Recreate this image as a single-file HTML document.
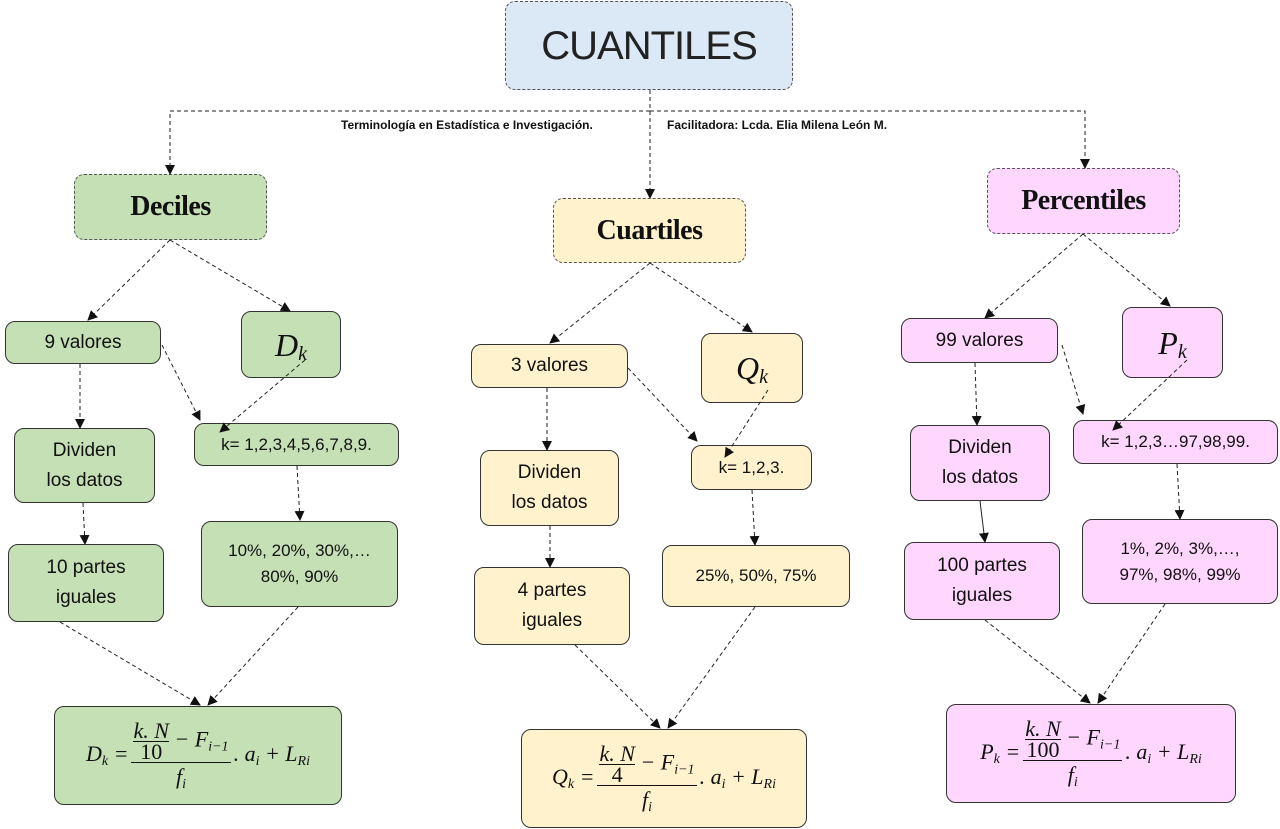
<!DOCTYPE html>
<html><head><meta charset="utf-8"><style>
body{margin:0;width:1280px;height:829px;background:#fff;position:relative;overflow:hidden;font-family:"Liberation Sans",sans-serif;}
.b{position:absolute;box-sizing:border-box;border:1px solid #333;border-radius:10px;display:flex;align-items:center;justify-content:center;text-align:center;color:#111;font-size:19px;line-height:30px;}
.d{border:1.5px dashed #555;}
.g{background:#c5e0b4}.y{background:#fff2cc}.p{background:#ffd6fd}.bl{background:#dbe8f6}
.h{font-family:"Liberation Serif",serif;font-weight:bold;font-size:28px;letter-spacing:-0.5px}
.v{font-family:"Liberation Serif",serif;font-style:italic;font-size:32px}
.v sub{font-size:20px}
.f{font-family:"Liberation Serif",serif;font-style:italic;font-size:22px}
.fr{display:inline-flex;flex-direction:column;align-items:center;vertical-align:middle;margin:0 3px}
.fr .n{border-bottom:1.5px solid #111;padding:0 2px;line-height:24px}
.fr .m{line-height:28px}
.in{display:inline-flex;flex-direction:column;align-items:center;vertical-align:middle}
.in .n2{border-bottom:1.5px solid #111;line-height:20px}
.in .m2{line-height:20px;font-style:normal}
sub{font-size:14px;vertical-align:-4px;line-height:0}
.t{position:absolute;font-size:12px;font-weight:bold;color:#111}
svg{z-index:5}
</style></head><body>
<svg width="1280" height="829" style="position:absolute;left:0;top:0">
<defs><marker id="a" markerWidth="10" markerHeight="10" refX="9" refY="5" orient="auto" markerUnits="userSpaceOnUse"><path d="M0,0 L10,5 L0,10z" fill="#111"/></marker></defs>
<g stroke="#222" stroke-width="1" stroke-dasharray="4,3" fill="none" marker-end="url(#a)">
<path d="M650,90 V111 H170 V174" />
<path d="M650,111 H1085 V168" />
<path d="M650,111 V198" />
<path d="M170,240 L88,320"/><path d="M170,240 L290,311"/>
<path d="M162,345 L200,420"/><path d="M305,360 L220,432"/>
<path d="M80,364 V428"/><path d="M83,503 L85,544"/>
<path d="M297,466 L300,520"/>
<path d="M60,622 L200,705"/><path d="M298,607 L208,705"/>
<path d="M650,263 L550,343"/><path d="M650,263 L752,332"/>
<path d="M628,368 L697,441"/><path d="M768,390 L725,457"/>
<path d="M547,388 V450"/><path d="M550,526 L550,567"/>
<path d="M752,490 L755,545"/>
<path d="M575,645 L660,728"/><path d="M755,607 L668,728"/>
<path d="M1083,234 L985,318"/><path d="M1083,234 L1170,306"/>
<path d="M1062,345 L1083,414"/><path d="M1187,360 L1113,430"/>
<path d="M975,363 L977,425"/>
<path d="M1177,464 L1180,519"/>
<path d="M985,620 L1090,703"/><path d="M1165,604 L1098,703"/>
</g>
<path d="M980,501 L985,542" stroke="#222" fill="none" marker-end="url(#a)"/>
</svg>
<div class="b d bl" style="left:505px;top:1px;width:288px;height:89px;font-size:40px;letter-spacing:-1px;color:#222"><span>CUANTILES</span></div>
<div class="t" style="left:341px;top:118px">Terminología en Estadística e Investigación.</div>
<div class="t" style="left:667px;top:118px">Facilitadora: Lcda. Elia Milena León M.</div>
<div class="b d g h" style="left:74px;top:174px;width:193px;height:66px"><span>Deciles</span></div>
<div class="b d y h" style="left:553px;top:198px;width:193px;height:65px"><span>Cuartiles</span></div>
<div class="b d p h" style="left:987px;top:168px;width:193px;height:66px"><span>Percentiles</span></div>

<div class="b g" style="left:5px;top:321px;width:156px;height:43px"><span>9 valores</span></div>
<div class="b g v" style="left:241px;top:311px;width:100px;height:67px"><span>D<sub>k</sub></span></div>
<div class="b g" style="left:14px;top:428px;width:141px;height:75px"><span>Dividen<br>los datos</span></div>
<div class="b g" style="left:194px;top:423px;width:205px;height:43px;font-size:17px"><span>k= 1,2,3,4,5,6,7,8,9.</span></div>
<div class="b g" style="left:8px;top:544px;width:156px;height:78px"><span>10 partes<br>iguales</span></div>
<div class="b g" style="left:201px;top:521px;width:197px;height:86px;font-size:17px;line-height:26px"><span>10%, 20%, 30%,…<br>80%, 90%</span></div>
<div class="b g f" style="left:54px;top:706px;width:288px;height:99px"><span>D<sub>k</sub> =<span class="fr"><span class="n"><span class="in"><span class="n2">k. N</span><span class="m2">10</span></span> − F<sub>i−1</sub></span><span class="m">f<sub>i</sub></span></span>. a<sub>i</sub> + L<sub>Ri</sub></span></div>

<div class="b y" style="left:471px;top:344px;width:157px;height:44px"><span>3 valores</span></div>
<div class="b y v" style="left:701px;top:333px;width:102px;height:70px"><span>Q<sub>k</sub></span></div>
<div class="b y" style="left:480px;top:450px;width:139px;height:76px"><span>Dividen<br>los datos</span></div>
<div class="b y" style="left:691px;top:445px;width:121px;height:45px;font-size:17px"><span>k= 1,2,3.</span></div>
<div class="b y" style="left:474px;top:567px;width:156px;height:78px"><span>4 partes<br>iguales</span></div>
<div class="b y" style="left:662px;top:545px;width:188px;height:62px;font-size:17px"><span>25%, 50%, 75%</span></div>
<div class="b y f" style="left:521px;top:729px;width:286px;height:99px"><span>Q<sub>k</sub> =<span class="fr"><span class="n"><span class="in"><span class="n2">k. N</span><span class="m2">4</span></span> − F<sub>i−1</sub></span><span class="m">f<sub>i</sub></span></span>. a<sub>i</sub> + L<sub>Ri</sub></span></div>

<div class="b p" style="left:901px;top:318px;width:157px;height:45px"><span>99 valores</span></div>
<div class="b p v" style="left:1122px;top:307px;width:101px;height:71px"><span>P<sub>k</sub></span></div>
<div class="b p" style="left:910px;top:425px;width:140px;height:76px"><span>Dividen<br>los datos</span></div>
<div class="b p" style="left:1073px;top:420px;width:205px;height:44px;font-size:17px"><span>k= 1,2,3…97,98,99.</span></div>
<div class="b p" style="left:904px;top:542px;width:156px;height:78px"><span>100 partes<br>iguales</span></div>
<div class="b p" style="left:1082px;top:519px;width:196px;height:85px;font-size:17px;line-height:26px"><span>1%, 2%, 3%,…,<br>97%, 98%, 99%</span></div>
<div class="b p f" style="left:946px;top:704px;width:290px;height:99px"><span>P<sub>k</sub> =<span class="fr"><span class="n"><span class="in"><span class="n2">k. N</span><span class="m2">100</span></span> − F<sub>i−1</sub></span><span class="m">f<sub>i</sub></span></span>. a<sub>i</sub> + L<sub>Ri</sub></span></div>
</body></html>
